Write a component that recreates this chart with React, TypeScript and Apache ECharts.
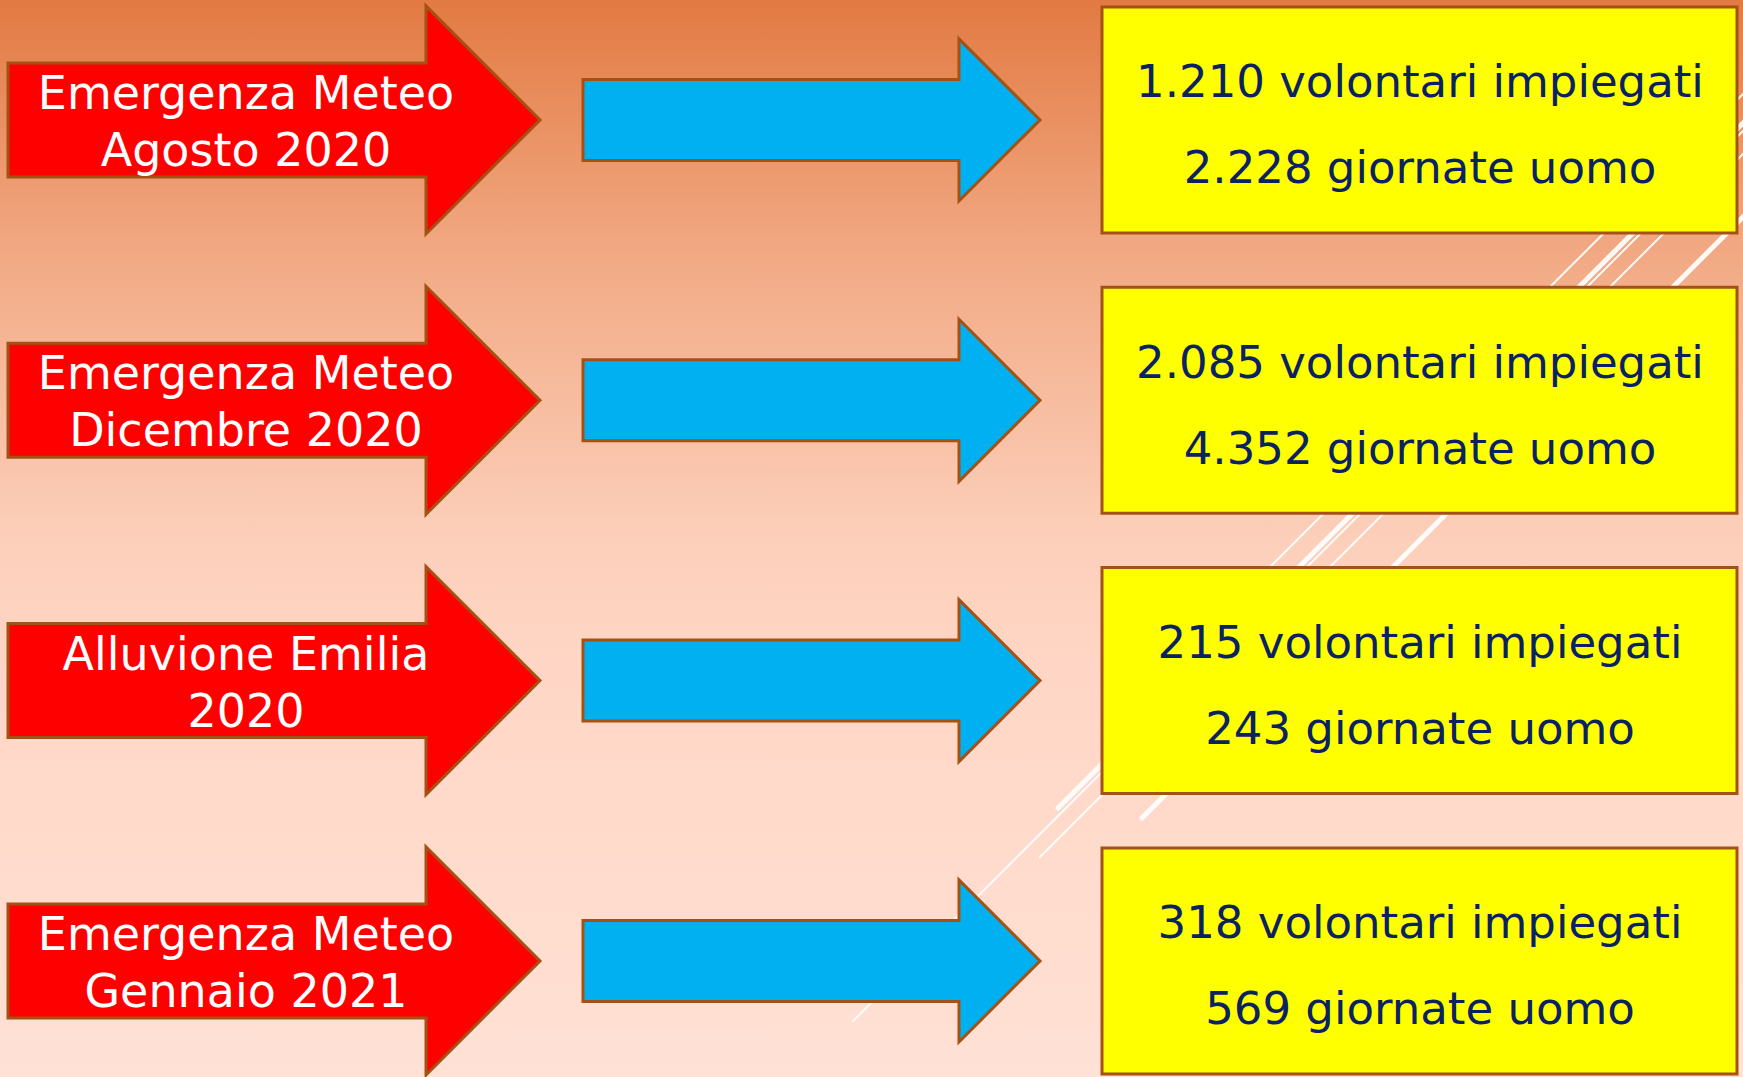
import React, { useEffect, useRef } from "react";
import * as echarts from "echarts";

// ---- data ----
const eventTitles = ["Emergenza Meteo", "Emergenza Meteo", "Alluvione Emilia", "Emergenza Meteo"];
const eventPeriods = ["Agosto 2020", "Dicembre 2020", "2020", "Gennaio 2021"];
const volunteers = [1210, 2085, 215, 318];
const manDays = [2228, 4352, 243, 569];
const volunteersLabel = "volontari impiegati";
const manDaysLabel = "giornate uomo";

function formatIt(n: number): string {
  return String(n).replace(/\B(?=(\d{3})+(?!\d))/g, ".");
}

const BORDER = "#A35214";
const FONT = "DejaVu Sans";

export default function App() {
  const ref = useRef<HTMLDivElement>(null);

  useEffect(() => {
    if (!ref.current) return;
    const chart = echarts.init(ref.current, undefined, { renderer: "svg" });

    const rows = volunteers.map((v, i) => [i, v, manDays[i]]);

    const deco = [
      { x1: 1187, y1: 650, x2: 1760, y2: 77, w: 2 },
      { x1: 1058, y1: 808, x2: 1760, y2: 106, w: 5 },
      { x1: 853, y1: 1021, x2: 1760, y2: 114, w: 2 },
      { x1: 1040, y1: 857, x2: 1760, y2: 137, w: 2 },
      { x1: 1142, y1: 818, x2: 1760, y2: 200, w: 5 },
    ];

    const option: any = {
      animation: false,
      grid: { left: 0, right: 0, top: 0, bottom: 0 },
      xAxis: { type: "value", min: 0, max: 1743, show: false },
      yAxis: { type: "value", min: -0.428, max: 3.414, inverse: true, show: false },
      graphic: [
        {
          type: "rect",
          z: -100,
          silent: true,
          shape: { x: 0, y: 0, width: 1743, height: 1077 },
          style: {
            fill: new echarts.graphic.LinearGradient(0, 0, 0, 1, [
              { offset: 0, color: "#E27A42" },
              { offset: 0.24, color: "#F2AA85" },
              { offset: 0.5, color: "#FCCFBA" },
              { offset: 0.62, color: "#FFD6C5" },
              { offset: 1, color: "#FFE1D5" },
            ]),
          },
        },
        ...deco.map((d) => ({
          type: "line",
          z: -50,
          silent: true,
          shape: { x1: d.x1, y1: d.y1, x2: d.x2, y2: d.y2 },
          style: { stroke: "#FFFFFF", lineWidth: d.w, lineCap: "round", opacity: 0.92 },
        })),
      ],
      series: [
        {
          type: "custom",
          z: 10,
          clip: false,
          data: rows,
          renderItem: (params: any, api: any) => {
            const idx = api.value(0);
            const vol = api.value(1);
            const days = api.value(2);
            const cy = api.coord([0, idx])[1];

            // red arrow
            const rL = 8, rH = 426, rT = 540, rs = 57, rh = 114;
            const red = [
              [rL, cy - rs], [rH, cy - rs], [rH, cy - rh], [rT, cy],
              [rH, cy + rh], [rH, cy + rs], [rL, cy + rs],
            ];
            // blue arrow
            const bL = 583, bH = 959, bT = 1040, bs = 40.5, bh = 81;
            const blue = [
              [bL, cy - bs], [bH, cy - bs], [bH, cy - bh], [bT, cy],
              [bH, cy + bh], [bH, cy + bs], [bL, cy + bs],
            ];
            const textStyle = (text: string, x: number, y: number, size: number, fill: string) => ({
              type: "text",
              style: {
                text,
                x,
                y,
                fill,
                fontSize: size,
                fontFamily: FONT,
                fontWeight: "normal",
                align: "center",
                verticalAlign: "middle",
                textAlign: "center",
                textVerticalAlign: "middle",
              },
            });
            return {
              type: "group",
              children: [
                {
                  type: "polygon",
                  shape: { points: red },
                  style: { fill: "#FF0000", stroke: BORDER, lineWidth: 3 },
                },
                textStyle(eventTitles[idx], 246, cy - 27, 46, "#FFFFFF"),
                textStyle(eventPeriods[idx], 246, cy + 30, 46, "#FFFFFF"),
                {
                  type: "polygon",
                  shape: { points: blue },
                  style: { fill: "#00B0F0", stroke: BORDER, lineWidth: 3 },
                },
                {
                  type: "rect",
                  shape: { x: 1102, y: cy - 113, width: 635, height: 226 },
                  style: { fill: "#FFFF00", stroke: BORDER, lineWidth: 3 },
                },
                textStyle(formatIt(vol) + " " + volunteersLabel, 1420, cy - 38, 45, "#0B2262"),
                textStyle(formatIt(days) + " " + manDaysLabel, 1420, cy + 48, 45, "#0B2262"),
              ],
            };
          },
        },
      ],
    };

    chart.setOption(option);
    return () => chart.dispose();
  }, []);

  return (
    <div
      ref={ref}
      style={{ position: "absolute", left: 0, top: 0, width: 1743, height: 1077 }}
    />
  );
}
